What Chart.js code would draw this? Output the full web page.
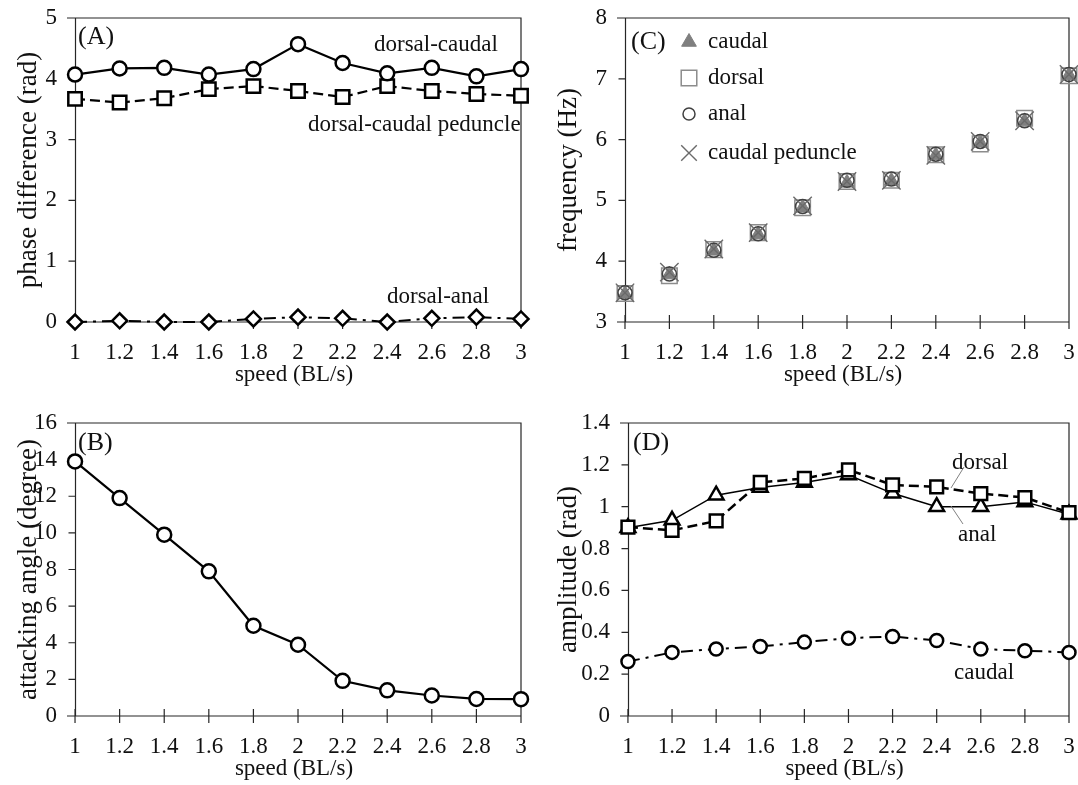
<!DOCTYPE html>
<html>
<head>
<meta charset="utf-8">
<script src="https://cdn.jsdelivr.net/npm/chart.js@4.4.1/dist/chart.umd.min.js"></script>
<style>
  html, body { margin: 0; padding: 0; background: #fff; overflow: hidden; }
  .panel { position: absolute; }
  canvas { display: block; }
</style>
</head>
<body>
<div class="panel" style="left:0;top:0;width:540px;height:395px"><canvas id="chartA" width="540" height="395"></canvas></div>
<div class="panel" style="left:540px;top:0;width:538px;height:395px"><canvas id="chartC" width="538" height="395"></canvas></div>
<div class="panel" style="left:0;top:395px;width:540px;height:390px"><canvas id="chartB" width="540" height="390"></canvas></div>
<div class="panel" style="left:540px;top:395px;width:538px;height:390px"><canvas id="chartD" width="538" height="390"></canvas></div>
<script>
// speed (BL/s) on every panel
const speeds = [1, 1.2, 1.4, 1.6, 1.8, 2, 2.2, 2.4, 2.6, 2.8, 3];

// (A) phase difference (rad)
const phaseDorsalCaudal = [4.07, 4.17, 4.18, 4.07, 4.16, 4.57, 4.26, 4.09, 4.18, 4.04, 4.16];
const phaseDorsalPeduncle = [3.67, 3.61, 3.68, 3.83, 3.88, 3.80, 3.70, 3.88, 3.80, 3.75, 3.72];
const phaseDorsalAnal = [0, 0.02, 0, 0, 0.05, 0.08, 0.06, 0, 0.06, 0.08, 0.05];

// (B) attacking angle (degree)
const attackAngle = [13.9, 11.9, 9.9, 7.9, 4.93, 3.89, 1.92, 1.4, 1.12, 0.93, 0.92];

// (C) frequency (Hz)
const freqCaudal = [3.46, 3.78, 4.17, 4.44, 4.88, 5.29, 5.32, 5.74, 5.95, 6.30, 7.06];
const freqDorsal = [3.47, 3.76, 4.19, 4.47, 4.88, 5.31, 5.33, 5.75, 5.93, 6.35, 7.05];
const freqAnal = [3.48, 3.79, 4.18, 4.45, 4.90, 5.33, 5.35, 5.76, 5.97, 6.31, 7.07];
const freqPeduncle = [3.48, 3.82, 4.20, 4.47, 4.91, 5.31, 5.33, 5.74, 5.97, 6.31, 7.07];

// (D) amplitude (rad)
const ampDorsal = [0.903, 0.887, 0.932, 1.116, 1.135, 1.176, 1.104, 1.095, 1.063, 1.044, 0.972];
const ampAnal = [0.90, 0.935, 1.055, 1.092, 1.116, 1.151, 1.064, 1.0, 1.0, 1.023, 0.964];
const ampCaudal = [0.26, 0.304, 0.32, 0.332, 0.353, 0.372, 0.38, 0.361, 0.32, 0.312, 0.304];

// tick values
const phaseTicks = [0, 1, 2, 3, 4, 5];
const angleTicks = [0, 2, 4, 6, 8, 10, 12, 14, 16];
const freqTicks = [3, 4, 5, 6, 7, 8];
const ampTicks = [0, 0.2, 0.4, 0.6, 0.8, 1, 1.2, 1.4];

const SERIF = "'Liberation Serif', 'Times New Roman', serif";
const pts = arr => arr.map((v, i) => ({ x: speeds[i], y: v }));
const noPad = () => ({ left: 0, top: 0, right: 0, bottom: 0 });

// excel-ish frame: box, vertical axis sitting at speed = 1, crossing ticks
const framePlugin = {
  id: 'frame',
  beforeDatasetsDraw(chart) {
    const { ctx, chartArea: a, scales: { x, y } } = chart;
    const ax = Math.round(x.getPixelForValue(speeds[0])) + 0.5;
    ctx.save();
    ctx.strokeStyle = '#262626';
    ctx.lineWidth = 1.2;
    ctx.beginPath();
    ctx.moveTo(a.left, a.top); ctx.lineTo(a.right, a.top);
    ctx.lineTo(a.right, a.bottom); ctx.lineTo(a.left, a.bottom);
    ctx.moveTo(ax, a.top); ctx.lineTo(ax, a.bottom);
    y.ticks.forEach(t => {
      const py = y.getPixelForValue(t.value);
      ctx.moveTo(ax - 7, py); ctx.lineTo(ax, py);
    });
    speeds.forEach(s => {
      const px = x.getPixelForValue(s);
      ctx.moveTo(px, a.bottom - 7); ctx.lineTo(px, a.bottom + 7);
    });
    ctx.stroke();
    ctx.restore();
  },
  afterDraw(chart) {
    const o = chart.options.plugins.frame || {};
    const ctx = chart.ctx;
    ctx.save();
    ctx.textBaseline = 'middle';
    ctx.textAlign = 'left';
    ctx.fillStyle = '#111';
    (o.notes || []).forEach(n => {
      ctx.font = (n.size || 23) + 'px ' + SERIF;
      ctx.fillText(n.text, n.x, n.y);
    });
    ctx.strokeStyle = '#808080';
    ctx.lineWidth = 1;
    (o.leaders || []).forEach(l => {
      ctx.beginPath(); ctx.moveTo(l[0], l[1]); ctx.lineTo(l[2], l[3]); ctx.stroke();
    });
    (o.legend || []).forEach(it => {
      const ds = chart.data.datasets.find(d => d.label === it.label);
      ctx.fillStyle = ds.pointBackgroundColor;
      ctx.strokeStyle = ds.pointBorderColor;
      ctx.lineWidth = ds.pointBorderWidth;
      Chart.helpers.drawPoint(ctx, { pointStyle: ds.pointStyle, radius: it.r, rotation: 0, borderWidth: ds.pointBorderWidth }, it.mx, it.y);
      ctx.fillStyle = '#111';
      ctx.font = '23px ' + SERIF;
      ctx.fillText(it.label, it.tx, it.y);
    });
    ctx.restore();
  }
};

function makePanel(id, opts) {
  const { datasets, yTicks, yTitle, pad, yWidth, xHeight, xTitlePad, frame } = opts;
  return new Chart(document.getElementById(id), {
    type: 'scatter',
    data: { datasets },
    options: {
      responsive: false,
      animation: false,
      devicePixelRatio: 1,
      layout: { padding: pad, autoPadding: false },
      plugins: { legend: { display: false }, tooltip: { enabled: false }, frame },
      scales: {
        x: {
          type: 'linear',
          min: 0.964, max: 3,
          grid: { display: false, drawTicks: false },
          border: { display: false },
          afterBuildTicks: s => { s.ticks = speeds.map(v => ({ value: v })); },
          afterFit: s => { s.height = xHeight; s.getPadding = noPad; },
          ticks: { color: '#111', padding: 17, font: { family: SERIF, size: 23 }, callback: v => String(v) },
          title: { display: true, text: 'speed (BL/s)', color: '#111', padding: { bottom: xTitlePad }, font: { family: SERIF, size: 23 } }
        },
        y: {
          type: 'linear',
          min: yTicks[0], max: yTicks[yTicks.length - 1],
          grid: { display: false, drawTicks: false },
          border: { display: false },
          afterBuildTicks: s => { s.ticks = yTicks.map(v => ({ value: v })); },
          afterFit: s => { s.width = yWidth; s.getPadding = noPad; },
          ticks: { color: '#111', padding: 10, font: { family: SERIF, size: 23 }, callback: v => String(v) },
          title: { display: true, text: yTitle, color: '#111', padding: { top: 13 }, font: { family: SERIF, size: 27 } }
        }
      }
    },
    plugins: [framePlugin]
  });
}

function lineSet(label, data, style, radius, dash, width) {
  return {
    label, data: pts(data), showLine: true, clip: false,
    borderColor: '#000', borderWidth: width, borderDash: dash,
    pointStyle: style, pointRadius: radius, pointBorderWidth: 2.5,
    pointBorderColor: '#000', pointBackgroundColor: '#fff'
  };
}

function markSet(label, data, style, radius, color, fill, width) {
  return {
    label, data: pts(data), showLine: false, clip: false,
    pointStyle: style, pointRadius: radius, pointBorderWidth: width,
    pointBorderColor: color, pointBackgroundColor: fill
  };
}

makePanel('chartA', {
  datasets: [
    lineSet('dorsal-caudal', phaseDorsalCaudal, 'circle', 7, [], 2.2),
    lineSet('dorsal-caudal peduncle', phaseDorsalPeduncle, 'rect', 9.5, [10, 5], 2.2),
    lineSet('dorsal-anal', phaseDorsalAnal, 'rectRot', 7.5, [12, 6, 3, 6], 2)
  ],
  yTicks: phaseTicks, yTitle: 'phase difference (rad)',
  pad: { top: 18, right: 19, left: 0, bottom: 0 }, yWidth: 67, xHeight: 73, xTitlePad: 6,
  frame: {
    notes: [
      { text: '(A)', x: 78, y: 37, size: 26 },
      { text: 'dorsal-caudal', x: 374, y: 45 },
      { text: 'dorsal-caudal peduncle', x: 308, y: 125 },
      { text: 'dorsal-anal', x: 387, y: 297 }
    ]
  }
});

makePanel('chartC', {
  datasets: [
    markSet('caudal peduncle', freqPeduncle, 'crossRot', 13, '#6a6a6a', 'rgba(0,0,0,0)', 1.4),
    markSet('anal', freqAnal, 'circle', 7, '#404040', 'rgba(0,0,0,0)', 1.5),
    markSet('dorsal', freqDorsal, 'rect', 11, '#8c8c8c', 'rgba(0,0,0,0)', 1.5),
    markSet('caudal', freqCaudal, 'triangle', 8.5, '#7f7f7f', '#7f7f7f', 1)
  ],
  yTicks: freqTicks, yTitle: 'frequency (Hz)',
  pad: { top: 18, right: 9, left: 0, bottom: 0 }, yWidth: 77, xHeight: 73, xTitlePad: 6,
  frame: {
    notes: [{ text: '(C)', x: 91, y: 42, size: 26 }],
    legend: [
      { label: 'caudal', r: 8.5, mx: 149, tx: 168, y: 42 },
      { label: 'dorsal', r: 11, mx: 149, tx: 168, y: 78 },
      { label: 'anal', r: 6, mx: 149, tx: 168, y: 114 },
      { label: 'caudal peduncle', r: 11, mx: 149, tx: 168, y: 153 }
    ]
  }
});

makePanel('chartB', {
  datasets: [
    lineSet('attacking angle', attackAngle, 'circle', 7, [], 2.2)
  ],
  yTicks: angleTicks, yTitle: 'attacking angle (degree)',
  pad: { top: 28, right: 19, left: 0, bottom: 0 }, yWidth: 67, xHeight: 69, xTitlePad: 2,
  frame: { notes: [{ text: '(B)', x: 78, y: 48, size: 26 }] }
});

makePanel('chartD', {
  datasets: [
    lineSet('dorsal', ampDorsal, 'rect', 9, [10, 5], 2.5),
    lineSet('anal', ampAnal, 'triangle', 8.5, [], 1.5),
    lineSet('caudal', ampCaudal, 'circle', 6.5, [12, 6, 3, 6], 2)
  ],
  yTicks: ampTicks, yTitle: 'amplitude (rad)',
  pad: { top: 28, right: 9, left: 0, bottom: 0 }, yWidth: 80, xHeight: 69, xTitlePad: 2,
  frame: {
    notes: [
      { text: '(D)', x: 93, y: 48, size: 26 },
      { text: 'dorsal', x: 412, y: 68 },
      { text: 'anal', x: 418, y: 140 },
      { text: 'caudal', x: 414, y: 278 }
    ],
    leaders: [[424, 72, 411, 93], [423, 129, 411, 111]]
  }
});
</script>
</body>
</html>
